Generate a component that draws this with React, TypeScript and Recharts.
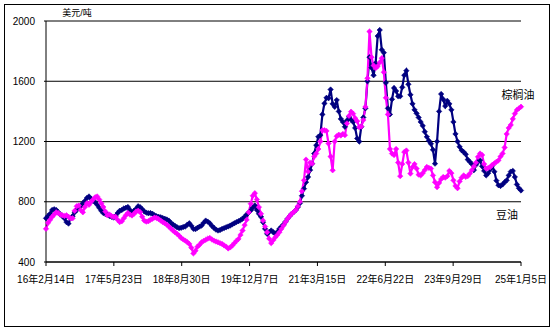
import React from "react";
import { LineChart, Line, XAxis, YAxis, CartesianGrid } from "recharts";

// Sample spacing: every 14 days starting 2016-02-14 (day 0)
const START_DAY = 0;
const STEP_DAYS = 14;

// 豆油 (soybean oil), USD/t
const soyOil = [
  690, 705, 720, 745, 750, 745, 730, 715, 705, 690,
  665, 655, 690, 705, 730, 745, 765, 770, 790, 805,
  825, 835, 820, 805, 797, 780, 760, 740, 725, 718,
  715, 705, 700, 695, 705, 725, 740, 745, 755, 760,
  765, 745, 724, 740, 753, 770, 764, 750, 735, 728,
  724, 725, 720, 710, 704, 700, 697, 692, 687, 682,
  675, 660, 649, 640, 631, 625, 627, 632, 635, 648,
  657, 640, 620, 618, 627, 635, 642, 660, 675, 668,
  657, 640, 627, 615, 609, 612, 620, 625, 631, 636,
  642, 650, 657, 665, 671, 678, 687, 700, 715, 728,
  742, 760, 775, 745, 720, 700, 664, 620, 587, 600,
  609, 598, 587, 600, 620, 635, 649, 668, 687, 705,
  720, 732, 745, 765, 790, 840, 887, 930, 964, 1010,
  1053, 1120, 1175, 1231, 1242, 1380, 1453, 1490, 1487, 1545,
  1450, 1430, 1475, 1400, 1350, 1330, 1298, 1340, 1364, 1345,
  1330, 1290, 1220, 1200, 1298, 1360, 1420, 1600, 1760, 1690,
  1640, 1720, 1900, 1940, 1809, 1790, 1590, 1420, 1380, 1480,
  1555, 1535, 1500, 1500, 1560, 1640, 1670, 1580, 1510, 1450,
  1410, 1387, 1360, 1330, 1305, 1265, 1231, 1205, 1185, 1145,
  1053, 1200, 1400, 1515, 1480, 1435, 1470, 1450, 1410, 1330,
  1250, 1200, 1165, 1142, 1130, 1115, 1080, 1065, 1050, 1010,
  1045, 1065, 1075, 1035, 1005, 975, 990, 1015, 1040, 1000,
  940, 910, 905, 915, 930, 942, 975, 1000, 1005, 964,
  915, 890, 875,
];

// 棕榈油 (palm oil), USD/t
const palmOil = [
  620, 660, 680, 700, 715, 730, 725, 715, 710, 705,
  710, 700, 690, 690, 740, 770, 775, 745, 730, 765,
  790, 780, 800, 815, 830, 835, 815, 790, 765, 735,
  710, 715, 705, 700, 700, 680, 665, 670, 690, 710,
  725, 715, 709, 720, 735, 740, 731, 700, 675, 668,
  671, 680, 687, 695, 692, 685, 675, 665, 657, 648,
  635, 622, 609, 598, 587, 575, 560, 550, 542, 532,
  520, 495, 457, 475, 502, 515, 531, 540, 547, 555,
  560, 550, 542, 536, 531, 525, 520, 510, 502, 490,
  497, 510, 525, 540, 553, 580, 609, 645, 680, 730,
  787, 840, 857, 815, 764, 720, 675, 635, 598, 555,
  525, 545, 564, 580, 598, 620, 642, 665, 687, 705,
  720, 732, 745, 770, 800, 870, 942, 1080, 1000, 1060,
  1053, 1100, 1120, 1150, 1200, 1275, 1275, 1270, 1187, 1100,
  1009, 1200, 1235, 1245, 1240, 1250, 1242, 1320, 1370, 1398,
  1385, 1355, 1335, 1295, 1300, 1342, 1430, 1620, 1930, 1760,
  1705, 1687, 1700, 1725, 1753, 1660, 1490, 1380, 1150, 1120,
  1110, 1150, 1060, 970, 1050, 1130, 1140, 1060, 987, 1030,
  1050, 1020, 980, 975, 990, 1010, 1031, 1025, 1020, 975,
  930, 897, 925, 950, 964, 960, 970, 1005, 990, 942,
  905, 890, 935, 960, 975, 965, 970, 987, 1010, 1035,
  1060, 1098, 1120, 1110, 1050, 1020, 1025, 1030, 1045, 1055,
  1065, 1075, 1100, 1120, 1160, 1250, 1290, 1310, 1350, 1385,
  1409, 1420, 1431,
];

const tickDays = [0, 464, 928, 1392, 1856, 2320, 2784, 3248];
const tickLabels = [
  "16年2月14日",
  "17年5月23日",
  "18年8月30日",
  "19年12月7日",
  "21年3月15日",
  "22年6月22日",
  "23年9月29日",
  "25年1月5日",
];
const yTicks = [400, 800, 1200, 1600, 2000];

const data = soyOil.map((v, i) => ({
  day: START_DAY + i * STEP_DAYS,
  soy: v,
  palm: palmOil[i],
}));

const FONT = "'Liberation Sans', Arial, 'Noto Sans CJK SC', sans-serif";

const Diamond = (props: any) => {
  const { cx, cy, stroke } = props;
  if (cx == null || cy == null) return null;
  const s = 2.7;
  return (
    <path
      d={`M${cx},${cy - s}L${cx + s},${cy}L${cx},${cy + s}L${cx - s},${cy}Z`}
      fill={stroke}
      stroke={stroke}
      strokeWidth={0.6}
    />
  );
};

export default function App() {
  return (
    <div style={{ position: "absolute", left: 0, top: 0, width: 554, height: 331, background: "#fff" }}>
      <div
        style={{
          position: "absolute",
          left: 4,
          top: 4,
          width: 544,
          height: 321,
          border: "1px solid #000",
        }}
      />
      <div style={{ position: "absolute", left: 0, top: 0 }}>
        <LineChart
          width={554}
          height={331}
          data={data}
          margin={{ top: 21, right: 33, bottom: 39, left: 6 }}
        >
          <CartesianGrid vertical={false} stroke="#000" strokeWidth={1} />
          <XAxis
            dataKey="day"
            type="number"
            domain={[0, 3248]}
            ticks={tickDays}
            tickFormatter={(d: number) => tickLabels[tickDays.indexOf(d)] ?? ""}
            height={30}
            axisLine={{ stroke: "#000", strokeWidth: 1 }}
            tickLine={{ stroke: "#000" }}
            tickSize={4}
            tickMargin={10}
            interval={0}
            tick={{ fill: "#000", fontSize: 10, fontFamily: FONT }}
          />
          <YAxis
            type="number"
            domain={[400, 2000]}
            ticks={yTicks}
            width={40}
            axisLine={{ stroke: "#000", strokeWidth: 1 }}
            tickLine={{ stroke: "#000" }}
            tickSize={2}
            tickMargin={9}
            tick={{ fill: "#000", fontSize: 10, fontFamily: FONT }}
          />
          <Line
            dataKey="soy"
            stroke="#000080"
            strokeWidth={2.2}
            dot={<Diamond />}
            isAnimationActive={false}
          />
          <Line
            dataKey="palm"
            stroke="#FF00FF"
            strokeWidth={2.2}
            dot={<Diamond />}
            isAnimationActive={false}
          />
          <text x={77} y={16} textAnchor="middle" fontSize={9} fontFamily={FONT} fill="#000">
            美元/吨
          </text>
          <text x={518} y={99} textAnchor="middle" fontSize={11} fontFamily={FONT} fill="#000">
            棕榈油
          </text>
          <text x={507} y={219} textAnchor="middle" fontSize={11} fontFamily={FONT} fill="#000">
            豆油
          </text>
        </LineChart>
      </div>
    </div>
  );
}
